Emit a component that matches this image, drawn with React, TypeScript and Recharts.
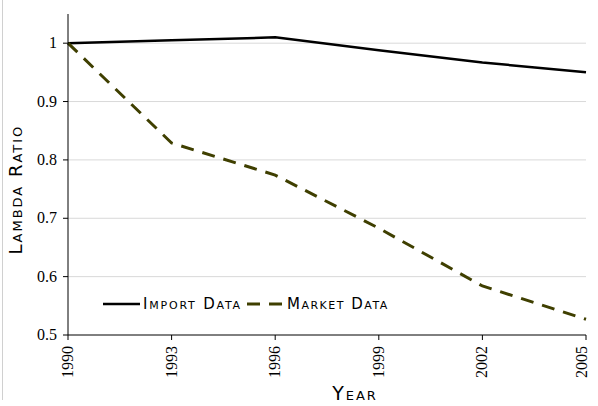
import React from "react"
import { LineChart, Line, XAxis, YAxis, ReferenceLine } from "recharts"

const years = [1990, 1993, 1996, 1999, 2002, 2005]
const importData = [1.0, 1.005, 1.01, 0.988, 0.967, 0.95]
const marketData = [1.0, 0.829, 0.774, 0.683, 0.584, 0.527]
const yTicks = [0.5, 0.6, 0.7, 0.8, 0.9, 1]
const gridValues = [0.6, 0.7, 0.8, 0.9, 1]

const data = years.map((year, i) => ({
  year,
  importData: importData[i],
  marketData: marketData[i],
}))

const serif = "'Liberation Serif', 'Times New Roman', serif"
const caps = "'DejaVu Sans', 'Liberation Sans', sans-serif"
const olive = "#3f3f00"

const XTick = (props: any) => {
  const { x, y, payload } = props
  return (
    <text
      x={x}
      y={y}
      transform={`rotate(-90 ${x} ${y})`}
      dx={-4}
      dy={5}
      textAnchor="end"
      style={{ fontFamily: serif, fontSize: 16 }}
      fill="#000"
    >
      {payload.value}
    </text>
  )
}

const YTick = (props: any) => {
  const { x, y, payload } = props
  return (
    <text
      x={x}
      y={y}
      dx={-4}
      dy={5}
      textAnchor="end"
      style={{ fontFamily: serif, fontSize: 16 }}
      fill="#000"
    >
      {payload.value}
    </text>
  )
}

const capsStyle: React.CSSProperties = {
  fontFamily: caps,
  fontVariant: "small-caps",
}

const LegendBox = () => (
  <svg
    width={300}
    height={24}
    style={{ position: "absolute", left: 100, top: 292 }}
  >
    <line x1={3} y1={12} x2={40} y2={12} stroke="#000" strokeWidth={2.5} />
    <text
      x={43}
      y={17}
      style={{ ...capsStyle, fontSize: 15, letterSpacing: 1.8 }}
      fill="#000"
    >
      Import Data
    </text>
    <line
      x1={147}
      y1={12}
      x2={185}
      y2={12}
      stroke={olive}
      strokeWidth={3}
      strokeDasharray="13 9"
    />
    <text
      x={187}
      y={17}
      style={{ ...capsStyle, fontSize: 15, letterSpacing: 1.5 }}
      fill="#000"
    >
      Market Data
    </text>
  </svg>
)

export default function App() {
  return (
    <div
      style={{
        position: "absolute",
        left: 0,
        top: 0,
        width: 598,
        height: 406,
        background: "#fff",
      }}
    >
      <div
        style={{
          position: "absolute",
          left: 2,
          top: 0,
          width: 1,
          height: 400,
          background: "#d0d0d0",
        }}
      />
      <LineChart
        width={598}
        height={406}
        data={data}
        margin={{ top: 14, right: 12, bottom: 26, left: 0 }}
      >
        {gridValues.map((v) => (
          <ReferenceLine key={v} y={v} stroke="#d9d9d9" strokeWidth={1} />
        ))}
        <XAxis
          dataKey="year"
          type="number"
          domain={[1990, 2005]}
          ticks={years}
          tick={<XTick />}
          tickSize={5}
          stroke="#000"
          height={45}
          label={{
            value: "Year",
            position: "insideBottom",
            offset: -20,
            dx: 28,
            fill: "#000",
            style: { ...capsStyle, fontSize: 19, letterSpacing: 2 },
          }}
        />
        <YAxis
          domain={[0.5, 1.05]}
          ticks={yTicks}
          tickSize={5}
          stroke="#000"
          width={68}
          tick={<YTick />}
          label={{
            value: "Lambda Ratio",
            angle: -90,
            position: "insideLeft",
            offset: 16,
            dy: 80,
            fill: "#000",
            style: { ...capsStyle, fontSize: 18, letterSpacing: 2 },
          }}
        />
        <Line
          dataKey="importData"
          stroke="#000"
          strokeWidth={2.5}
          dot={false}
          isAnimationActive={false}
        />
        <Line
          dataKey="marketData"
          stroke={olive}
          strokeWidth={3}
          strokeDasharray="13 9"
          dot={false}
          isAnimationActive={false}
        />
      </LineChart>
      <LegendBox />
    </div>
  )
}
